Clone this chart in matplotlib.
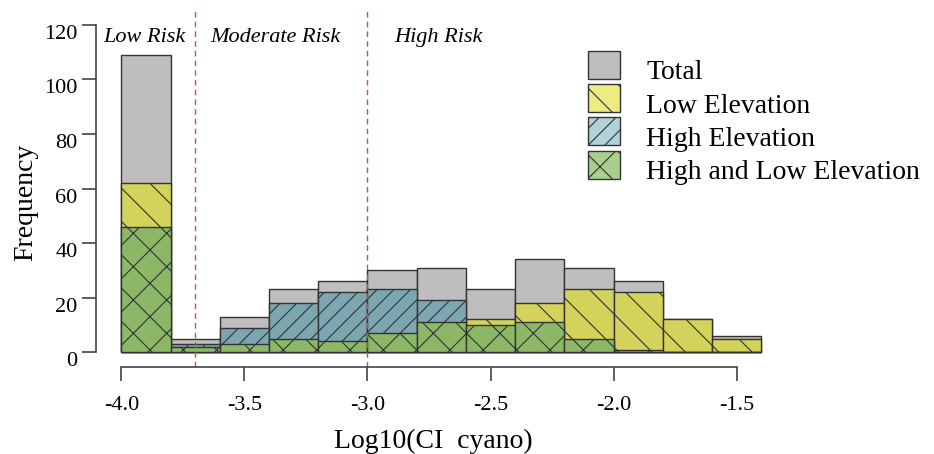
import numpy as np
import matplotlib
matplotlib.use('Agg')
import matplotlib.pyplot as plt
from matplotlib.patches import Patch
from matplotlib.transforms import ScaledTranslation

plt.rcParams['font.family'] = ['Liberation Serif', 'DejaVu Serif']
plt.rcParams['hatch.linewidth'] = 0.8

# histogram bins of Log10(CI cyano), width 0.2
bin_left = [-4.0, -3.8, -3.6, -3.4, -3.2, -3.0, -2.8, -2.6, -2.4, -2.2, -2.0, -1.8, -1.6]
total = [109, 5, 13, 23, 26, 30, 31, 23, 34, 31, 26, 12, 6]
low_elev = [62, 0, 0, 0, 0, 0, 0, 12, 18, 23, 22, 12, 5]
high_elev = [0, 3, 9, 18, 22, 23, 19, 0, 0, 0, 0, 0, 0]
both_elev = [46, 2, 3, 5, 4, 7, 11, 10, 11, 5, 1, 0, 0]
bin_width = 0.2

risk_cuts = [-3.7, -3.0]
risk_names = ['Low Risk', 'Moderate Risk', 'High Risk']
risk_x = [-3.905, -3.373, -2.71]

xticks = [-4.0, -3.5, -3.0, -2.5, -2.0, -1.5]
yticks = [0, 20, 40, 60, 80, 100, 120]

series = ['Total', 'Low Elevation', 'High Elevation', 'High and Low Elevation']
bar_cols = ['#bebebe', '#d3d35c', '#7ca7b0', '#8cb767']
leg_cols = ['#bebebe', '#ecec80', '#b0d2d8', '#a8cf8c']
hatches = ['', '\\', '//', 'x']

fig = plt.figure(figsize=(9.34, 4.54), dpi=100)
ax = fig.add_axes([0.1025, 0.1923, 0.74, 0.786])

edge = '#333333'
for vals, col, h in zip([total, low_elev, high_elev, both_elev], bar_cols, hatches):
    ax.bar(bin_left, vals, width=bin_width, align='edge', color=col,
           edgecolor=edge, linewidth=1.0, hatch=h)

for c in risk_cuts:
    ax.axvline(c, color='#c85050', lw=1.0, ls=(0, (4, 3)))

for name, x in zip(risk_names, risk_x):
    ax.text(x, 115.4, name, ha='center', va='center', style='italic', fontsize=16)

ax.set_xlim(-4.104, -1.296)
ax.set_ylim(-5.3, 125.5)
ax.spines['top'].set_visible(False)
ax.spines['right'].set_visible(False)
ax.spines['left'].set_bounds(0, 120)
ax.spines['bottom'].set_bounds(-4.0, -1.5)
for s in ['left', 'bottom']:
    ax.spines[s].set_color('#444444')
    ax.spines[s].set_linewidth(1.2)

ax.set_xticks(xticks)
ax.set_xticklabels([f'{t:.1f}' for t in xticks])
ax.set_yticks(yticks)
ax.set_yticklabels([str(t) for t in yticks])
ax.tick_params(axis='both', length=10, width=1.2, color='#444444', labelsize=16)
ax.tick_params(axis='x', pad=11)
ax.tick_params(axis='y', pad=3)
down = ScaledTranslation(0, -7 / 100, fig.dpi_scale_trans)
for lab in ax.get_yticklabels():
    lab.set_transform(lab.get_transform() + down)

fig.text(433 / 934, 1 - 441 / 454, 'Log10(CI  cyano)', fontsize=20, ha='center', va='center')
fig.text(26 / 934, 1 - 202 / 454, 'Frequency', fontsize=20, rotation=90, ha='center', va='center')

handles = [Patch(facecolor=c, edgecolor=edge, hatch=h, linewidth=1.0)
           for c, h in zip(leg_cols, hatches)]
leg = fig.legend(handles, series, loc='upper left', bbox_to_anchor=(588 / 934, 1 - 51 / 454),
                 frameon=False, fontsize=20, borderpad=0, borderaxespad=0,
                 handlelength=1.15, handleheight=1.17, handletextpad=0.95, labelspacing=0.14)
shift = ScaledTranslation(0, -5 / 100, fig.dpi_scale_trans)
for t in leg.get_texts():
    t.set_transform(t.get_transform() + shift)

fig.savefig('out.png', dpi=100)
